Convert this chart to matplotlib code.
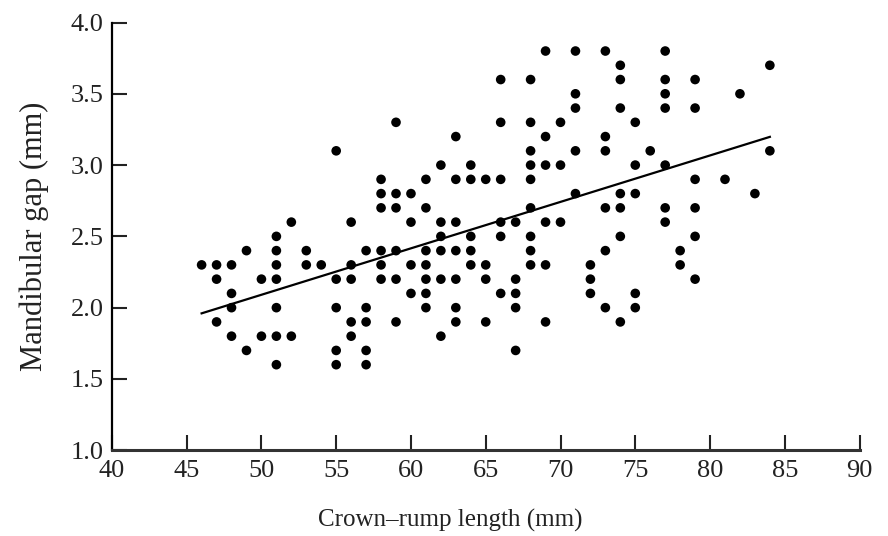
import numpy as np
import matplotlib.pyplot as plt

# crown-rump length (mm) and mandibular gap (mm)
crl = [46,
       47, 47, 47,
       48, 48, 48, 48,
       49, 49,
       50, 50,
       51, 51, 51, 51, 51, 51, 51,
       52, 52,
       53, 53,
       54,
       55, 55, 55, 55, 55,
       56, 56, 56, 56, 56,
       57, 57, 57, 57, 57,
       58, 58, 58, 58, 58, 58,
       59, 59, 59, 59, 59, 59,
       60, 60, 60, 60,
       61, 61, 61, 61, 61, 61, 61,
       62, 62, 62, 62, 62, 62,
       63, 63, 63, 63, 63, 63, 63,
       64, 64, 64, 64, 64,
       65, 65, 65, 65,
       66, 66, 66, 66, 66, 66,
       67, 67, 67, 67, 67,
       68, 68, 68, 68, 68, 68, 68, 68, 68,
       69, 69, 69, 69, 69, 69,
       70, 70, 70,
       71, 71, 71, 71, 71,
       72, 72, 72,
       73, 73, 73, 73, 73, 73,
       74, 74, 74, 74, 74, 74, 74,
       75, 75, 75, 75, 75,
       76,
       77, 77, 77, 77, 77, 77, 77,
       78, 78,
       79, 79, 79, 79, 79, 79,
       81, 82, 83,
       84, 84]
gap = [2.3,
       2.3, 2.2, 1.9,
       2.3, 2.1, 2.0, 1.8,
       2.4, 1.7,
       2.2, 1.8,
       2.5, 2.4, 2.3, 2.2, 2.0, 1.8, 1.6,
       2.6, 1.8,
       2.4, 2.3,
       2.3,
       3.1, 2.2, 2.0, 1.7, 1.6,
       2.6, 2.3, 2.2, 1.9, 1.8,
       2.4, 2.0, 1.9, 1.7, 1.6,
       2.9, 2.8, 2.7, 2.4, 2.3, 2.2,
       3.3, 2.8, 2.7, 2.4, 2.2, 1.9,
       2.8, 2.6, 2.3, 2.1,
       2.9, 2.7, 2.4, 2.3, 2.2, 2.1, 2.0,
       3.0, 2.6, 2.5, 2.4, 2.2, 1.8,
       3.2, 2.9, 2.6, 2.4, 2.2, 2.0, 1.9,
       3.0, 2.9, 2.5, 2.4, 2.3,
       2.9, 2.3, 2.2, 1.9,
       3.6, 3.3, 2.9, 2.6, 2.5, 2.1,
       2.6, 2.2, 2.1, 2.0, 1.7,
       3.6, 3.3, 3.1, 3.0, 2.9, 2.7, 2.5, 2.4, 2.3,
       3.8, 3.2, 3.0, 2.6, 2.3, 1.9,
       3.3, 3.0, 2.6,
       3.8, 3.5, 3.4, 3.1, 2.8,
       2.3, 2.2, 2.1,
       3.8, 3.2, 3.1, 2.7, 2.4, 2.0,
       3.7, 3.6, 3.4, 2.8, 2.7, 2.5, 1.9,
       3.3, 3.0, 2.8, 2.1, 2.0,
       3.1,
       3.8, 3.6, 3.5, 3.4, 3.0, 2.7, 2.6,
       2.4, 2.3,
       3.6, 3.4, 2.9, 2.7, 2.5, 2.2,
       2.9, 3.5, 2.8,
       3.7, 3.1]

xticks = [40, 45, 50, 55, 60, 65, 70, 75, 80, 85, 90]
yticks = [1.0, 1.5, 2.0, 2.5, 3.0, 3.5, 4.0]

plt.rcParams['font.family'] = ['Liberation Serif', 'DejaVu Serif']

x = np.array(crl, dtype=float)
y = np.array(gap)
slope, intercept = np.polyfit(x, y, 1)
xf = np.array([x.min(), x.max()])

fig = plt.figure(figsize=(8.88, 5.36), dpi=100)
ax = fig.add_axes([0.126, 0.160, 0.842, 0.798])

ax.scatter(x, y, s=48, c='black', edgecolors='none', zorder=3)
ax.plot(xf, intercept + slope * xf, color='black', lw=1.6, zorder=2)

ax.set_xlim(40, 90)
ax.set_ylim(1.0, 4.0)
ax.set_xticks(xticks)
ax.set_yticks(yticks)
ax.set_yticklabels([f'{v:.1f}' for v in yticks])
ax.tick_params(direction='in', length=11, width=1.5, labelsize=19, colors='#222222')
ax.tick_params(axis='x', pad=7)
ax.tick_params(axis='y', pad=6)

for side in ['top', 'right']:
    ax.spines[side].set_visible(False)
ax.spines['left'].set_linewidth(1.6)
ax.spines['bottom'].set_linewidth(2.2)
ax.spines['bottom'].set_color('#333333')

ax.set_xlabel('Crown\u2013rump length (mm)', fontsize=18, color='#222222')
ax.set_ylabel('Mandibular gap (mm)', fontsize=22, color='#222222')
ax.xaxis.set_label_coords(0.452, -0.138)
ax.yaxis.set_label_coords(-0.084, 0.5)

plt.savefig('out.png', dpi=100)
